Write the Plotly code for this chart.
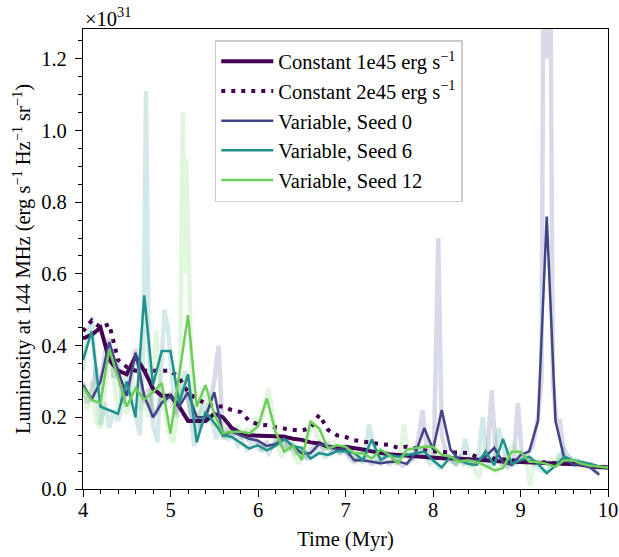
import numpy as np
import plotly.graph_objects as go

# coarse time grid (Myr)
time = [round(4.0 + 0.1 * i, 1) for i in range(61)]

const_1e45 = [0.42, 0.43, 0.45, 0.36, 0.33, 0.32, 0.37, 0.33, 0.28, 0.26,
              0.26, 0.23, 0.19, 0.19, 0.19, 0.21, 0.20, 0.17, 0.155, 0.15,
              0.15, 0.148, 0.147, 0.146, 0.14, 0.137, 0.13, 0.127, 0.118, 0.115,
              0.118, 0.115, 0.11, 0.105, 0.10, 0.097, 0.095, 0.093, 0.09, 0.088,
              0.087, 0.086, 0.086, 0.085, 0.083, 0.081, 0.08, 0.078, 0.077, 0.076,
              0.075, 0.073, 0.072, 0.071, 0.071, 0.071, 0.07, 0.068, 0.063, 0.061,
              0.06]

const_2e45 = [0.44, 0.47, 0.45, 0.46, 0.36, 0.34, 0.33, 0.33, 0.33, 0.33,
              0.33, 0.31, 0.27, 0.25, 0.24, 0.23, 0.23, 0.22, 0.215, 0.19,
              0.18, 0.178, 0.172, 0.168, 0.165, 0.163, 0.17, 0.207, 0.165, 0.15,
              0.145, 0.136, 0.132, 0.127, 0.125, 0.123, 0.115, 0.118, 0.112, 0.108,
              0.105, 0.103, 0.102, 0.102, 0.10, 0.09, 0.087, 0.085, 0.083, 0.08,
              0.078, 0.076, 0.074, 0.073, 0.072, 0.071, 0.07, 0.068, 0.065, 0.062,
              0.06]

seed0 = [0.29, 0.25, 0.30, 0.41, 0.33, 0.26, 0.38, 0.26, 0.20, 0.24,
         0.26, 0.23, 0.27, 0.20, 0.20, 0.27, 0.15, 0.16, 0.15, 0.14,
         0.135, 0.12, 0.125, 0.14, 0.12, 0.10, 0.10, 0.125, 0.12, 0.11,
         0.11, 0.08, 0.08, 0.075, 0.072, 0.075, 0.077, 0.07, 0.10, 0.17,
         0.11, 0.22, 0.11, 0.081, 0.08, 0.08, 0.09, 0.115, 0.075, 0.067,
         0.095, 0.105, 0.19, 0.76, 0.19, 0.085, 0.068, 0.068, 0.06, 0.04,
         None]

seed6 = [0.36, 0.44, 0.23, 0.22, 0.21, 0.30, 0.20, 0.54, 0.29, 0.385,
         0.385, 0.24, 0.32, 0.13, 0.215, 0.185, 0.15, 0.145, 0.13, 0.113,
         0.122, 0.108, 0.12, 0.14, 0.12, 0.115, 0.085, 0.10, 0.095, 0.105,
         0.105, 0.10, 0.081, 0.138, 0.081, 0.095, 0.09, 0.095, 0.10, 0.104,
         0.08, 0.06, 0.09, 0.08, 0.07, 0.067, 0.105, 0.067, 0.14, 0.07,
         0.08, 0.09, 0.07, 0.044, 0.065, 0.09, 0.08, 0.075, 0.07, 0.062,
         0.06]

seed12 = [0.285, 0.248, 0.24, 0.39, 0.31, 0.23, 0.28, 0.25, 0.27, 0.295,
          0.155, 0.32, 0.485, 0.23, 0.29, 0.21, 0.155, 0.16, 0.16, 0.155,
          0.174, 0.253, 0.16, 0.104, 0.12, 0.081, 0.188, 0.169, 0.113, 0.122,
          0.118, 0.10, 0.10, 0.085, 0.11, 0.095, 0.072, 0.11, 0.115, 0.118,
          0.118, 0.095, 0.09, 0.076, 0.08, 0.075, 0.065, 0.052, 0.058, 0.104,
          0.104, 0.076, 0.075, 0.07, 0.062, 0.08, 0.08, 0.07, 0.065, 0.062,
          0.06]

# high-resolution (faint) curves: (time, luminosity) pairs
seed0_fine = [
    (4.00, 0.30), (4.05, 0.24), (4.10, 0.27), (4.15, 0.34), (4.20, 0.28), (4.25, 0.38),
    (4.30, 0.42), (4.35, 0.31), (4.40, 0.35), (4.45, 0.24), (4.50, 0.27), (4.55, 0.30),
    (4.60, 0.39), (4.65, 0.31), (4.70, 0.24), (4.75, 0.28), (4.80, 0.20), (4.85, 0.22),
    (4.90, 0.26), (4.95, 0.24), (5.00, 0.27), (5.05, 0.21), (5.10, 0.24), (5.15, 0.28),
    (5.20, 0.25), (5.25, 0.19), (5.30, 0.21), (5.35, 0.17), (5.40, 0.21), (5.45, 0.24),
    (5.50, 0.30), (5.55, 0.40), (5.60, 0.14), (5.65, 0.17), (5.70, 0.15), (5.75, 0.17),
    (5.80, 0.14), (5.85, 0.16), (5.90, 0.13), (5.95, 0.15), (6.00, 0.13), (6.05, 0.11),
    (6.10, 0.13), (6.15, 0.115), (6.20, 0.135), (6.25, 0.125), (6.30, 0.15), (6.35, 0.11),
    (6.40, 0.125), (6.45, 0.10), (6.50, 0.105), (6.55, 0.09), (6.60, 0.11), (6.65, 0.12),
    (6.70, 0.13), (6.75, 0.11), (6.80, 0.125), (6.85, 0.10), (6.90, 0.115), (6.95, 0.10),
    (7.00, 0.11), (7.05, 0.085), (7.10, 0.075), (7.15, 0.085), (7.20, 0.075), (7.25, 0.08),
    (7.30, 0.07), (7.35, 0.075), (7.40, 0.07), (7.45, 0.08), (7.50, 0.07), (7.55, 0.08),
    (7.60, 0.075), (7.65, 0.065), (7.70, 0.07), (7.75, 0.08), (7.80, 0.10), (7.84, 0.15),
    (7.88, 0.22), (7.92, 0.13), (7.96, 0.09), (8.01, 0.10), (8.06, 0.70), (8.10, 0.15),
    (8.15, 0.10), (8.20, 0.08), (8.25, 0.07), (8.30, 0.09), (8.35, 0.07), (8.40, 0.08),
    (8.45, 0.07), (8.50, 0.085), (8.56, 0.08), (8.62, 0.09), (8.67, 0.276), (8.72, 0.09),
    (8.78, 0.07), (8.85, 0.06), (8.92, 0.07), (8.97, 0.24), (9.02, 0.08), (9.08, 0.10),
    (9.14, 0.12), (9.20, 0.20), (9.24, 0.30), (9.27, 1.9), (9.30, 1.2), (9.33, 1.9),
    (9.37, 0.30), (9.41, 0.19), (9.45, 0.19), (9.50, 0.09), (9.55, 0.08), (9.60, 0.07),
    (9.65, 0.075), (9.70, 0.065), (9.75, 0.07), (9.80, 0.06), (9.85, 0.05), (9.90, 0.045),
]

seed6_fine = [
    (4.00, 0.33), (4.05, 0.42), (4.10, 0.48), (4.15, 0.30), (4.20, 0.18), (4.25, 0.24),
    (4.30, 0.17), (4.35, 0.22), (4.40, 0.19), (4.45, 0.24), (4.50, 0.33), (4.55, 0.25),
    (4.60, 0.21), (4.65, 0.15), (4.69, 0.40), (4.72, 1.11), (4.75, 0.40), (4.80, 0.18),
    (4.85, 0.13), (4.89, 0.35), (4.93, 0.50), (4.97, 0.45), (5.02, 0.30), (5.07, 0.20),
    (5.12, 0.28), (5.17, 0.33), (5.22, 0.22), (5.27, 0.12), (5.32, 0.18), (5.37, 0.24),
    (5.42, 0.19), (5.47, 0.20), (5.52, 0.14), (5.57, 0.17), (5.62, 0.15), (5.67, 0.14),
    (5.72, 0.15), (5.77, 0.12), (5.82, 0.13), (5.87, 0.11), (5.92, 0.12), (5.97, 0.13),
    (6.02, 0.11), (6.07, 0.12), (6.12, 0.10), (6.17, 0.12), (6.22, 0.13), (6.27, 0.15),
    (6.32, 0.11), (6.37, 0.12), (6.42, 0.10), (6.47, 0.11), (6.52, 0.09), (6.57, 0.085),
    (6.62, 0.09), (6.67, 0.11), (6.72, 0.10), (6.77, 0.09), (6.82, 0.10), (6.87, 0.11),
    (6.92, 0.10), (6.97, 0.11), (7.02, 0.10), (7.07, 0.09), (7.12, 0.08), (7.17, 0.08),
    (7.22, 0.09), (7.27, 0.18), (7.32, 0.12), (7.37, 0.08), (7.42, 0.09), (7.47, 0.10),
    (7.52, 0.09), (7.57, 0.085), (7.62, 0.09), (7.67, 0.10), (7.72, 0.09), (7.77, 0.085),
    (7.82, 0.10), (7.87, 0.11), (7.92, 0.09), (7.97, 0.07), (8.02, 0.08), (8.07, 0.06),
    (8.12, 0.07), (8.17, 0.09), (8.22, 0.08), (8.27, 0.07), (8.32, 0.08), (8.37, 0.14),
    (8.42, 0.065), (8.47, 0.07), (8.52, 0.09), (8.57, 0.20), (8.61, 0.08), (8.65, 0.07),
    (8.70, 0.07), (8.75, 0.17), (8.80, 0.12), (8.85, 0.07), (8.90, 0.08), (8.95, 0.07),
    (9.00, 0.08), (9.05, 0.09), (9.10, 0.08), (9.15, 0.07), (9.20, 0.06), (9.25, 0.05),
    (9.30, 0.05), (9.35, 0.06), (9.40, 0.07), (9.45, 0.09), (9.50, 0.11), (9.55, 0.09),
    (9.60, 0.08), (9.65, 0.08), (9.70, 0.075), (9.75, 0.07), (9.80, 0.07), (9.85, 0.065),
    (9.90, 0.06), (9.95, 0.06), (10.00, 0.06),
]

seed12_fine = [
    (4.00, 0.27), (4.05, 0.22), (4.10, 0.30), (4.15, 0.19), (4.20, 0.17), (4.25, 0.26),
    (4.30, 0.37), (4.35, 0.31), (4.40, 0.22), (4.45, 0.27), (4.50, 0.21), (4.55, 0.25),
    (4.60, 0.30), (4.65, 0.22), (4.70, 0.24), (4.75, 0.20), (4.80, 0.30), (4.84, 0.44),
    (4.88, 0.25), (4.93, 0.22), (4.98, 0.16), (5.03, 0.13), (5.07, 0.20), (5.11, 0.30),
    (5.14, 1.05), (5.16, 0.60), (5.18, 0.92), (5.21, 0.65), (5.24, 0.30), (5.28, 0.22),
    (5.32, 0.20), (5.37, 0.28), (5.42, 0.24), (5.47, 0.18), (5.52, 0.21), (5.57, 0.16),
    (5.62, 0.14), (5.67, 0.17), (5.72, 0.15), (5.77, 0.18), (5.82, 0.14), (5.87, 0.17),
    (5.92, 0.15), (5.97, 0.20), (6.02, 0.18), (6.07, 0.22), (6.12, 0.28), (6.17, 0.20),
    (6.22, 0.13), (6.27, 0.09), (6.32, 0.13), (6.37, 0.11), (6.42, 0.09), (6.47, 0.07),
    (6.52, 0.10), (6.57, 0.15), (6.62, 0.19), (6.67, 0.15), (6.72, 0.12), (6.77, 0.11),
    (6.82, 0.12), (6.87, 0.13), (6.92, 0.11), (6.97, 0.12), (7.02, 0.10), (7.07, 0.11),
    (7.12, 0.09), (7.17, 0.10), (7.22, 0.09), (7.27, 0.10), (7.32, 0.08), (7.37, 0.11),
    (7.42, 0.09), (7.47, 0.10), (7.52, 0.08), (7.57, 0.07), (7.62, 0.09), (7.67, 0.18),
    (7.72, 0.10), (7.77, 0.11), (7.82, 0.12), (7.87, 0.11), (7.92, 0.12), (7.97, 0.11),
    (8.02, 0.10), (8.07, 0.09), (8.12, 0.09), (8.17, 0.08), (8.22, 0.08), (8.27, 0.07),
    (8.32, 0.08), (8.37, 0.07), (8.42, 0.08), (8.47, 0.06), (8.52, 0.03), (8.57, 0.07),
    (8.62, 0.06), (8.67, 0.06), (8.72, 0.05), (8.77, 0.06), (8.82, 0.09), (8.87, 0.11),
    (8.92, 0.12), (8.97, 0.10), (9.02, 0.08), (9.07, 0.07), (9.11, 0.01), (9.15, 0.07),
    (9.20, 0.08), (9.25, 0.07), (9.30, 0.07), (9.35, 0.08), (9.40, 0.06), (9.44, 0.10),
    (9.50, 0.08), (9.55, 0.09), (9.60, 0.08), (9.65, 0.07), (9.70, 0.07), (9.75, 0.065),
    (9.80, 0.065), (9.85, 0.06), (9.90, 0.06), (9.95, 0.06), (10.00, 0.06),
]

labels = ["Constant 1e45 erg s<sup>\u22121</sup>", "Constant 2e45 erg s<sup>\u22121</sup>",
          "Variable, Seed 0", "Variable, Seed 6", "Variable, Seed 12"]

C_CONST = "#440154"
C_S0 = "#414487"
C_S6 = "#21918c"
C_S12 = "#6ccd5a"

FONT = "Liberation Serif, Times New Roman, serif"
FS = 20.5

fig = go.Figure()

for fine, col in [(seed0_fine, "rgba(65,68,135,0.2)"),
                  (seed6_fine, "rgba(33,145,140,0.2)"),
                  (seed12_fine, "rgba(108,205,90,0.2)")]:
    tx, ty = zip(*fine)
    fig.add_trace(go.Scatter(x=list(tx), y=list(ty), mode="lines",
                             line=dict(color=col, width=4.5),
                             showlegend=False, hoverinfo="skip"))

fig.add_trace(go.Scatter(x=time, y=const_1e45, mode="lines", name=labels[0],
                         legendgroup="a", line=dict(color=C_CONST, width=4)))
fig.add_trace(go.Scatter(x=time, y=const_2e45, mode="lines", name=labels[1],
                         legendgroup="b", line=dict(color=C_CONST, width=4, dash="4px,6px")))
fig.add_trace(go.Scatter(x=time, y=seed0, mode="lines", name=labels[2],
                         legendgroup="c", line=dict(color=C_S0, width=2.5)))
fig.add_trace(go.Scatter(x=time, y=seed6, mode="lines", name=labels[3],
                         legendgroup="d", line=dict(color=C_S6, width=2.5)))
fig.add_trace(go.Scatter(x=time, y=seed12, mode="lines", name=labels[4],
                         legendgroup="e", line=dict(color=C_S12, width=2.5)))

axis_common = dict(showline=True, linecolor="black", linewidth=1.2, mirror=True,
                   ticks="outside", ticklen=7, tickwidth=1.2, tickcolor="black",
                   showgrid=False, zeroline=False, automargin=False,
                   tickfont=dict(family=FONT, size=FS, color="black"))

fig.update_xaxes(range=[4, 10], tick0=4, dtick=1, ticklabelstandoff=-5,
                 minor=dict(dtick=0.2, ticks="outside", ticklen=4, tickwidth=1, tickcolor="black"),
                 title=dict(text="Time (Myr)", font=dict(family=FONT, size=FS, color="black"), standoff=11),
                 **axis_common)
fig.update_yaxes(range=[0, 1.283], tick0=0, dtick=0.2, tickformat=".1f", ticklabelstandoff=4,
                 minor=dict(dtick=0.05, ticks="outside", ticklen=4, tickwidth=1, tickcolor="black"),
                 title=dict(text="Luminosity at 144 MHz (erg s<sup>\u22121</sup> Hz<sup>\u22121</sup> sr<sup>\u22121</sup>)",
                            font=dict(family=FONT, size=FS, color="black"), standoff=4),
                 **axis_common)

fig.add_annotation(text="\u00d710<sup>31</sup>", xref="paper", yref="paper", x=0, y=1,
                   xanchor="left", yanchor="bottom", showarrow=False,
                   font=dict(family=FONT, size=FS, color="black"), yshift=-3)

fig.update_layout(
    width=619, height=557,
    margin=dict(l=83, r=11, t=29, b=68),
    plot_bgcolor="white", paper_bgcolor="white",
    font=dict(family=FONT, size=FS, color="black"),
    legend=dict(x=0.251, y=0.976, xanchor="left", yanchor="top",
                bgcolor="rgba(255,255,255,0.85)", bordercolor="#cccccc", borderwidth=1.5,
                font=dict(family=FONT, size=FS, color="black"),
                itemwidth=52,
                traceorder="grouped", tracegroupgap=0),
)

fig.write_html("out.html")
